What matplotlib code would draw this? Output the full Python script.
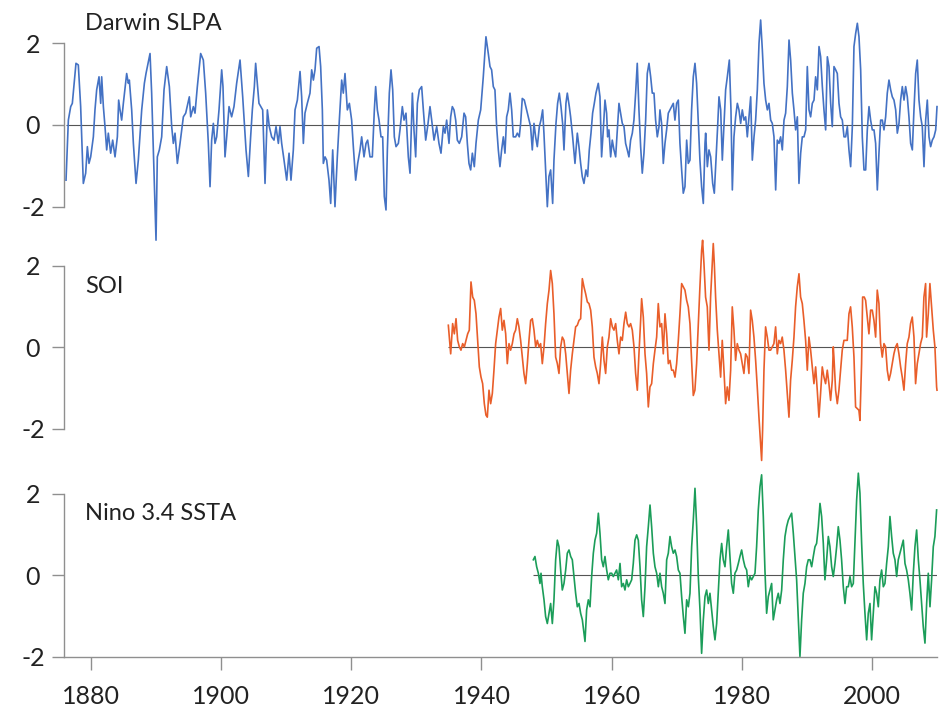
import numpy as np
import matplotlib.pyplot as plt

plt.rcParams["font.family"] = ["Lato", "DejaVu Sans"]

# Darwin sea level pressure anomaly
darwin_year = [
    1876.16, 1876.52, 1876.88, 1877.13, 1877.69, 1878.05, 1878.41, 1878.82, 1879.18, 1879.44,
    1879.69, 1879.95, 1880.36, 1880.61, 1880.87, 1881.23, 1881.49, 1881.64, 1881.90, 1882.15,
    1882.41, 1882.66, 1883.02, 1883.33, 1883.69, 1884.05, 1884.25, 1884.46, 1884.71, 1884.97,
    1885.48, 1885.74, 1885.89, 1886.25, 1886.51, 1886.92, 1887.27, 1887.79, 1888.20, 1888.45,
    1889.07, 1889.32, 1889.58, 1889.99, 1890.19, 1890.50, 1890.86, 1891.22, 1891.63, 1892.04,
    1892.40, 1892.65, 1892.91, 1893.27, 1893.68, 1894.19, 1894.55, 1895.11, 1895.32, 1895.73,
    1895.98, 1896.34, 1896.85, 1897.26, 1897.62, 1898.03, 1898.29, 1898.54, 1898.80, 1899.05,
    1899.31, 1899.67, 1900.08, 1900.28, 1900.59, 1900.85, 1901.21, 1901.61, 1901.97, 1902.38,
    1902.90, 1903.31, 1903.82, 1904.18, 1904.53, 1904.79, 1905.10, 1905.30, 1905.56, 1905.81,
    1906.38, 1906.74, 1907.10, 1907.40, 1907.76, 1908.12, 1908.43, 1908.79, 1909.04, 1909.30,
    1909.66, 1910.07, 1910.43, 1910.73, 1911.09, 1911.35, 1911.71, 1912.12, 1912.37, 1912.63,
    1912.88, 1913.24, 1913.65, 1913.91, 1914.17, 1914.42, 1914.68, 1915.04, 1915.29, 1915.55,
    1915.70, 1915.96, 1916.21, 1916.57, 1916.83, 1917.14, 1917.49, 1917.85, 1918.16, 1918.52,
    1918.77, 1919.03, 1919.39, 1919.70, 1920.05, 1920.31, 1920.67, 1920.98, 1921.34, 1921.59,
    1921.95, 1922.26, 1922.51, 1922.87, 1923.23, 1923.54, 1923.74, 1924.00, 1924.26, 1924.56,
    1924.82, 1925.07, 1925.33, 1925.54, 1925.84, 1926.10, 1926.36, 1926.61, 1926.87, 1927.23,
    1927.48, 1927.84, 1928.10, 1928.40, 1928.76, 1929.02, 1929.38, 1929.63, 1929.89, 1930.15,
    1930.45, 1930.81, 1931.07, 1931.43, 1931.73, 1932.09, 1932.35, 1932.71, 1933.12, 1933.47,
    1933.78, 1934.14, 1934.40, 1934.65, 1935.01, 1935.27, 1935.52, 1935.78, 1936.04, 1936.29,
    1936.60, 1936.96, 1937.32, 1937.57, 1937.83, 1938.08, 1938.34, 1938.60, 1938.90, 1939.16,
    1939.52, 1939.88, 1940.28, 1940.69, 1941.05, 1941.31, 1941.56, 1941.82, 1942.07, 1942.33,
    1942.59, 1942.84, 1943.10, 1943.36, 1943.61, 1943.87, 1944.12, 1944.38, 1944.64, 1944.89,
    1945.25, 1945.51, 1945.81, 1946.02, 1946.27, 1946.58, 1946.94, 1947.30, 1947.55, 1947.81,
    1948.07, 1948.32, 1948.58, 1948.89, 1949.14, 1949.40, 1949.60, 1949.86, 1950.12, 1950.37,
    1950.63, 1950.94, 1951.14, 1951.45, 1951.70, 1951.96, 1952.22, 1952.47, 1952.68, 1952.98,
    1953.19, 1953.50, 1953.70, 1954.01, 1954.37, 1954.73, 1954.98, 1955.24, 1955.49, 1955.75,
    1956.06, 1956.31, 1956.57, 1956.83, 1957.08, 1957.34, 1957.59, 1957.95, 1958.21, 1958.46,
    1958.72, 1958.98, 1959.23, 1959.39, 1959.59, 1959.85, 1960.10, 1960.36, 1960.62, 1960.87,
    1961.13, 1961.38, 1961.64, 1961.90, 1962.15, 1962.41, 1962.66, 1962.92, 1963.18, 1963.43,
    1963.69, 1963.94, 1964.20, 1964.46, 1964.71, 1964.97, 1965.23, 1965.48, 1965.74, 1966.00,
    1966.25, 1966.51, 1966.76, 1967.02, 1967.28, 1967.43, 1967.68, 1967.94, 1968.20, 1968.45,
    1968.71, 1968.96, 1969.22, 1969.48, 1969.73, 1969.99, 1970.25, 1970.50, 1970.76, 1971.01,
    1971.27, 1971.53, 1971.78, 1972.04, 1972.29, 1972.55, 1972.81, 1973.06, 1973.32, 1973.57,
    1973.83, 1974.09, 1974.35, 1974.45, 1974.71, 1974.96, 1975.22, 1975.53, 1975.78, 1976.04,
    1976.29, 1976.50, 1976.76, 1977.01, 1977.27, 1977.52, 1977.78, 1978.09, 1978.34, 1978.55,
    1978.80, 1979.06, 1979.32, 1979.57, 1979.83, 1980.08, 1980.34, 1980.60, 1980.85, 1981.11,
    1981.37, 1981.62, 1981.88, 1982.13, 1982.39, 1982.65, 1982.90, 1983.16, 1983.41, 1983.67,
    1983.93, 1984.18, 1984.44, 1984.69, 1984.95, 1985.21, 1985.46, 1985.72, 1985.97, 1986.23,
    1986.49, 1986.74, 1987.00, 1987.26, 1987.51, 1987.77, 1988.02, 1988.28, 1988.54, 1988.79,
    1989.05, 1989.30, 1989.56, 1989.82, 1990.07, 1990.33, 1990.58, 1990.84, 1991.10, 1991.35,
    1991.61, 1991.87, 1992.12, 1992.38, 1992.63, 1992.89, 1993.15, 1993.40, 1993.66, 1993.91,
    1994.17, 1994.43, 1994.68, 1994.94, 1995.19, 1995.45, 1995.71, 1995.96, 1996.22, 1996.47,
    1996.73, 1996.99, 1997.24, 1997.50, 1997.76, 1998.01, 1998.27, 1998.52, 1998.78, 1999.04,
    1999.29, 1999.55, 1999.80, 2000.06, 2000.32, 2000.57, 2000.83, 2001.08, 2001.34, 2001.60,
    2001.85, 2002.11, 2002.36, 2002.62, 2002.88, 2003.13, 2003.39, 2003.65, 2003.90, 2004.16,
    2004.41, 2004.67, 2004.93, 2005.18, 2005.44, 2005.69, 2005.95, 2006.21, 2006.46, 2006.72,
    2006.97, 2007.23, 2007.49, 2007.74, 2008.00, 2008.26, 2008.51, 2008.77, 2009.02, 2009.28,
    2009.54, 2009.80, 2010.00,
]
darwin_val = [
    -1.35, 0.12, 0.45, 0.53, 1.51, 1.47, 0.45, -1.43, -1.18, -0.53,
    -0.94, -0.78, -0.29, 0.37, 0.86, 1.18, 0.53, 1.18, 0.45, -0.04,
    -0.61, -0.20, -0.69, -0.37, -0.78, -0.29, 0.61, 0.37, 0.12, 0.53,
    1.26, 1.02, 1.10, 0.37, -0.45, -1.43, -0.86, 0.37, 1.02, 1.26,
    1.75, 0.78, -0.61, -2.82, -0.78, -0.61, -0.29, 0.86, 1.43, 0.94,
    -0.04, -0.45, -0.20, -0.94, -0.45, 0.20, 0.29, 0.69, 0.20, 0.45,
    0.29, 0.94, 1.75, 1.59, 0.78, -0.45, -1.51, -0.37, 0.04, -0.45,
    -0.29, 0.37, 1.35, 0.94, -0.78, -0.29, 0.45, 0.20, 0.45, 1.02,
    1.59, 0.69, -0.61, -1.26, -0.29, 0.37, 0.94, 1.51, 1.02, 0.53,
    0.37, -1.43, 0.37, -0.04, -0.29, -0.37, -0.04, -0.45, -0.04, -0.45,
    -0.86, -1.35, -0.69, -1.35, -0.61, 0.37, 0.61, 1.31, 0.69, -0.45,
    0.29, 0.53, 0.78, 1.35, 1.10, 1.35, 1.88, 1.92, 1.43, 0.37,
    -0.94, -0.78, -0.86, -1.35, -1.92, -0.61, -2.00, -0.78, 0.12, 1.10,
    0.78, 1.26, 0.37, 0.53, 0.12, -0.53, -1.35, -0.94, -0.61, -0.29,
    -0.78, -0.45, -0.37, -0.78, -0.78, 0.37, 0.94, 0.37, 0.12, -0.29,
    -0.29, -1.75, -2.08, -0.61, 0.78, 1.35, 0.86, -0.29, -0.53, -0.45,
    -0.12, 0.45, 0.12, 0.29, -0.78, -1.18, 0.78, -0.12, -0.78, 0.53,
    0.86, 0.94, 0.37, -0.37, -0.04, 0.45, 0.12, -0.37, -0.04, -0.45,
    -0.69, -0.04, -0.20, 0.12, -0.45, 0.20, 0.45, 0.37, 0.12, -0.37,
    -0.45, -0.29, 0.29, 0.20, -0.45, -0.94, -1.10, -0.69, -1.02, -0.45,
    0.12, 0.37, 1.18, 2.16, 1.75, 1.43, 1.35, 0.94, 0.86, -0.04,
    -0.61, -1.02, -0.61, -0.29, -0.69, 0.20, 0.37, 0.78, 0.37, -0.29,
    -0.29, -0.20, -0.29, 0.04, 0.65, 0.61, 0.37, 0.12, -0.04, -0.61,
    0.04, -0.29, -0.53, -0.04, 0.12, 0.37, -0.20, -1.10, -2.00, -1.26,
    -1.10, -1.92, -0.86, 0.04, 0.53, 0.78, 0.45, 0.04, -0.61, 0.53,
    0.78, 0.45, 0.20, -0.29, -0.94, -0.20, -0.53, -0.94, -1.26, -1.43,
    -1.10, -1.26, -0.61, -0.20, 0.29, 0.53, 0.78, 1.02, 0.69, -0.78,
    -0.12, 0.61, 0.29, -0.29, -0.12, -0.78, -0.37, -0.61, -0.78, -0.12,
    0.53, 0.29, 0.04, -0.04, -0.45, -0.61, -0.78, -0.37, -0.20, 0.12,
    0.78, 1.51, 0.37, -0.53, -1.18, -0.69, 0.12, 1.26, 1.51, 1.18,
    0.78, 0.78, 0.12, -0.29, -0.04, 0.37, 0.04, -0.94, -0.45, -0.12,
    0.29, 0.37, 0.45, 0.53, 0.12, 0.53, 0.61, -0.45, -1.10, -1.67,
    -1.51, -0.37, -0.94, -0.86, 0.37, 1.18, 1.51, 1.02, 0.04, -0.86,
    -1.51, -1.92, -0.45, -0.20, -1.02, -0.61, -0.78, -1.43, -1.67, -0.86,
    -0.04, 0.69, 0.37, -0.86, 0.04, 0.86, 1.18, 1.59, 0.37, -1.59,
    -0.29, 0.20, 0.53, 0.37, 0.04, 0.37, 0.12, 0.20, -0.29, 0.20,
    0.69, -0.86, -0.29, 0.12, 0.86, 2.00, 2.57, 1.84, 1.02, 0.61,
    0.37, 0.53, 0.12, 0.04, -0.29, -1.59, -0.37, -0.45, -0.29, -0.61,
    0.12, 0.29, 0.94, 2.08, 1.59, 0.78, 0.37, -0.12, 0.20, -1.43,
    -0.69, -0.29, -0.29, -0.12, 1.43, 0.37, 0.20, 0.53, 0.61, 1.18,
    0.86, 1.92, 1.67, 0.94, 0.37, -0.12, 1.67, 1.43, 0.53, -0.04,
    1.43, 1.35, 1.26, 0.53, 0.20, 0.12, -0.29, -0.29, -0.04, -0.61,
    -1.02, -0.04, 1.92, 2.24, 2.49, 2.16, 1.35, -0.29, -1.10, -1.10,
    -0.12, 0.45, 0.12, -0.12, -0.12, -0.45, -1.59, -0.69, 0.12, 0.12,
    -0.12, 0.20, 0.78, 1.10, 0.86, 0.69, 0.61, 0.37, -0.20, 0.04,
    0.61, 0.94, 0.61, 0.94, 0.69, 0.20, -0.45, -0.61, 0.37, 1.26,
    1.59, 0.61, 0.20, -0.04, -1.02, 0.12, 0.61, -0.29, -0.53, -0.37,
    -0.29, -0.12, 0.45,
]

# Southern Oscillation Index
soi_year = [
    1934.91, 1935.27, 1935.57, 1935.83, 1936.09, 1936.34, 1936.60, 1936.85, 1937.11, 1937.37,
    1937.62, 1937.88, 1938.13, 1938.39, 1938.65, 1938.90, 1939.16, 1939.41, 1939.67, 1939.93,
    1940.18, 1940.44, 1940.69, 1940.90, 1941.16, 1941.41, 1941.67, 1941.92, 1942.18, 1942.44,
    1942.69, 1942.95, 1943.20, 1943.46, 1943.72, 1943.97, 1944.23, 1944.48, 1944.74, 1945.00,
    1945.25, 1945.51, 1945.76, 1946.02, 1946.28, 1946.53, 1946.79, 1947.05, 1947.30, 1947.56,
    1947.81, 1948.07, 1948.33, 1948.58, 1948.84, 1949.09, 1949.35, 1949.61, 1949.86, 1950.12,
    1950.38, 1950.63, 1950.89, 1951.14, 1951.40, 1951.66, 1951.91, 1952.17, 1952.42, 1952.68,
    1952.94, 1953.19, 1953.45, 1953.70, 1953.96, 1954.22, 1954.47, 1954.73, 1954.99, 1955.24,
    1955.50, 1955.75, 1956.01, 1956.27, 1956.52, 1956.78, 1957.03, 1957.29, 1957.55, 1957.80,
    1958.06, 1958.31, 1958.57, 1958.83, 1959.08, 1959.34, 1959.59, 1959.85, 1960.11, 1960.36,
    1960.62, 1960.87, 1961.13, 1961.39, 1961.64, 1961.90, 1962.16, 1962.41, 1962.67, 1962.92,
    1963.18, 1963.44, 1963.69, 1963.95, 1964.20, 1964.46, 1964.61, 1964.87, 1965.13, 1965.38,
    1965.64, 1965.89, 1966.15, 1966.41, 1966.66, 1966.92, 1967.17, 1967.43, 1967.69, 1967.94,
    1968.20, 1968.46, 1968.71, 1968.97, 1969.22, 1969.48, 1969.74, 1969.99, 1970.25, 1970.50,
    1970.76, 1971.02, 1971.27, 1971.53, 1971.78, 1972.04, 1972.29, 1972.55, 1972.80, 1973.06,
    1973.32, 1973.57, 1973.83, 1973.98, 1974.19, 1974.44, 1974.70, 1974.96, 1975.21, 1975.47,
    1975.62, 1975.78, 1975.98, 1976.24, 1976.49, 1976.75, 1977.00, 1977.26, 1977.52, 1977.77,
    1978.03, 1978.29, 1978.54, 1978.80, 1979.05, 1979.31, 1979.57, 1979.82, 1980.08, 1980.33,
    1980.59, 1980.85, 1981.10, 1981.36, 1981.61, 1981.87, 1982.13, 1982.38, 1982.64, 1982.89,
    1983.05, 1983.20, 1983.41, 1983.66, 1983.92, 1984.18, 1984.43, 1984.69, 1984.94, 1985.20,
    1985.46, 1985.71, 1985.97, 1986.22, 1986.48, 1986.74, 1986.99, 1987.25, 1987.50, 1987.76,
    1988.02, 1988.27, 1988.53, 1988.79, 1989.04, 1989.30, 1989.55, 1989.81, 1990.07, 1990.32,
    1990.58, 1990.83, 1991.09, 1991.35, 1991.60, 1991.86, 1992.11, 1992.37, 1992.63, 1992.88,
    1993.14, 1993.39, 1993.65, 1993.91, 1994.06, 1994.16, 1994.42, 1994.68, 1994.93, 1995.19,
    1995.44, 1995.70, 1995.96, 1996.21, 1996.47, 1996.72, 1996.98, 1997.24, 1997.49, 1997.75,
    1998.00, 1998.16, 1998.41, 1998.57, 1998.82, 1999.03, 1999.29, 1999.54, 1999.80, 2000.05,
    2000.31, 2000.57, 2000.82, 2001.08, 2001.33, 2001.59, 2001.85, 2002.10, 2002.36, 2002.61,
    2002.87, 2003.13, 2003.38, 2003.64, 2003.89, 2004.15, 2004.41, 2004.66, 2004.92, 2005.18,
    2005.43, 2005.69, 2005.94, 2006.20, 2006.46, 2006.71, 2006.97, 2007.22, 2007.48, 2007.74,
    2007.99, 2008.25, 2008.40, 2008.66, 2008.91, 2009.17, 2009.43, 2009.68, 2009.94, 2010.00,
]
soi_val = [
    0.54, -0.16, 0.58, 0.33, 0.70, 0.17, 0.01, -0.07, 0.09, 0.01,
    0.17, 0.33, 0.42, 1.60, 1.23, 1.15, 0.82, 0.17, -0.48, -0.73,
    -0.89, -1.38, -1.66, -1.71, -1.05, -1.38, -1.13, -0.56, 0.09, 0.42,
    0.74, 0.95, 0.42, 0.66, 0.33, -0.40, 0.09, -0.07, 0.09, 0.33,
    0.42, 0.70, 0.50, 0.17, -0.24, -0.64, -0.89, -0.40, 0.17, 0.66,
    0.70, 0.42, 0.01, 0.17, 0.01, 0.09, -0.40, 0.01, 0.58, 1.07,
    1.40, 1.88, 1.56, 0.82, -0.24, -0.40, -0.64, 0.01, 0.25, 0.17,
    -0.16, -0.64, -1.13, -0.56, -0.16, 0.17, 0.50, 0.54, 0.66, 0.70,
    1.68, 1.48, 1.31, 1.11, 1.07, 0.91, 0.50, -0.24, -0.48, -0.64,
    -0.89, -0.40, 0.25, -0.32, -0.64, 0.01, 0.25, 0.70, 0.50, 0.42,
    0.58, 0.17, -0.16, 0.25, 0.17, 0.58, 0.86, 0.58, 0.50, 0.58,
    0.42, 0.01, -0.64, -1.05, -0.16, 0.66, 1.19, 0.74, -0.16, -0.64,
    -1.46, -0.97, -0.89, -0.40, -0.07, 0.25, 1.07, 0.50, 0.58, -0.16,
    0.82, 0.33, -0.40, -0.32, -0.56, -0.56, -0.73, -0.40, 0.17, 0.82,
    1.56, 1.48, 1.40, 1.15, 0.99, 0.58, -0.32, -1.18, -1.05, -0.40,
    0.58, 1.48, 2.37, 2.62, 2.05, 1.23, 0.99, -0.07, 1.23, 2.05,
    2.54, 2.05, 1.23, 0.42, -0.16, -0.73, 0.17, -0.56, -1.38, -0.97,
    -1.30, -0.56, 0.99, 0.42, -0.32, 0.09, -0.07, -0.16, -0.40, -0.64,
    -0.16, -0.24, -0.64, 0.91, 0.66, 0.25, -0.32, -0.97, -1.71, -2.36,
    -2.77, -2.03, -0.56, 0.50, 0.25, -0.07, -0.07, 0.01, 0.09, 0.50,
    -0.16, 0.17, 0.09, 0.25, -0.07, -0.56, -1.13, -1.71, -0.81, -0.32,
    0.25, 0.99, 1.48, 1.80, 1.23, 1.07, 0.66, 0.17, -0.56, 0.25,
    -0.07, -0.48, -0.89, -0.48, -1.05, -1.71, -1.13, -0.48, -0.73, -0.89,
    -0.56, -0.89, -1.30, -0.81, 0.01, -0.24, -1.05, -1.38, -1.05, -0.56,
    -0.07, 0.17, 0.17, 0.17, 0.82, 0.99, 0.50, -0.24, -1.46, -1.50,
    -1.54, -1.79, -0.40, 1.23, 1.23, 1.15, 0.74, 0.33, 0.91, 0.91,
    0.66, 0.25, 1.40, 1.07, 0.09, -0.24, 0.09, 0.01, -0.56, -0.81,
    -0.64, -0.40, -0.16, 0.01, 0.09, -0.16, -0.48, -0.73, -1.05, -0.40,
    0.09, 0.25, 0.58, 0.74, 0.25, -0.89, -0.40, -0.16, 0.09, 0.25,
    1.23, 1.56, 0.25, 0.82, 1.56, 0.99, 0.42, 0.01, -0.97, -1.05,
]

# Nino 3.4 sea surface temperature anomaly
nino_year = [
    1947.97, 1948.22, 1948.48, 1948.74, 1948.99, 1949.15, 1949.35, 1949.61, 1949.86, 1950.12,
    1950.38, 1950.63, 1950.89, 1951.14, 1951.40, 1951.66, 1951.91, 1952.17, 1952.42, 1952.68,
    1952.94, 1953.19, 1953.45, 1953.71, 1953.96, 1954.22, 1954.47, 1954.73, 1954.99, 1955.24,
    1955.50, 1955.75, 1955.91, 1956.16, 1956.42, 1956.68, 1956.93, 1957.19, 1957.44, 1957.70,
    1957.96, 1958.21, 1958.47, 1958.72, 1958.98, 1959.24, 1959.49, 1959.75, 1960.01, 1960.26,
    1960.52, 1960.77, 1961.03, 1961.29, 1961.54, 1961.80, 1962.05, 1962.31, 1962.57, 1962.82,
    1963.08, 1963.33, 1963.59, 1963.85, 1964.10, 1964.36, 1964.61, 1964.87, 1965.13, 1965.38,
    1965.64, 1965.90, 1966.15, 1966.41, 1966.66, 1966.92, 1967.18, 1967.43, 1967.69, 1967.94,
    1968.20, 1968.46, 1968.71, 1968.97, 1969.22, 1969.48, 1969.74, 1969.99, 1970.25, 1970.50,
    1970.76, 1971.02, 1971.27, 1971.53, 1971.79, 1972.04, 1972.30, 1972.55, 1972.81, 1973.07,
    1973.32, 1973.58, 1973.83, 1974.09, 1974.35, 1974.60, 1974.86, 1975.11, 1975.37, 1975.63,
    1975.88, 1976.14, 1976.39, 1976.65, 1976.91, 1977.16, 1977.42, 1977.67, 1977.93, 1978.19,
    1978.44, 1978.70, 1978.95, 1979.21, 1979.47, 1979.72, 1979.98, 1980.24, 1980.49, 1980.75,
    1981.00, 1981.26, 1981.52, 1981.77, 1982.03, 1982.28, 1982.54, 1982.80, 1983.05, 1983.31,
    1983.56, 1983.82, 1984.08, 1984.33, 1984.59, 1984.84, 1985.10, 1985.36, 1985.61, 1985.87,
    1986.13, 1986.38, 1986.64, 1986.89, 1987.15, 1987.41, 1987.66, 1987.92, 1988.17, 1988.43,
    1988.69, 1988.94, 1989.20, 1989.45, 1989.71, 1989.97, 1990.22, 1990.48, 1990.74, 1990.99,
    1991.25, 1991.50, 1991.76, 1992.02, 1992.27, 1992.53, 1992.78, 1993.04, 1993.30, 1993.55,
    1993.81, 1994.06, 1994.32, 1994.58, 1994.83, 1995.09, 1995.34, 1995.60, 1995.86, 1996.11,
    1996.37, 1996.63, 1996.88, 1997.14, 1997.39, 1997.65, 1997.91, 1998.16, 1998.42, 1998.67,
    1998.93, 1999.19, 1999.44, 1999.70, 1999.95, 2000.21, 2000.47, 2000.72, 2000.98, 2001.23,
    2001.49, 2001.75, 2002.00, 2002.26, 2002.52, 2002.77, 2003.03, 2003.28, 2003.54, 2003.80,
    2004.05, 2004.31, 2004.56, 2004.82, 2005.08, 2005.33, 2005.59, 2005.84, 2006.10, 2006.36,
    2006.61, 2006.87, 2007.13, 2007.38, 2007.64, 2007.89, 2008.15, 2008.41, 2008.66, 2008.92,
    2009.17, 2009.43, 2009.68, 2009.94,
]
nino_val = [
    0.38, 0.46, 0.21, 0.05, -0.20, 0.05, -0.28, -0.60, -1.01, -1.18,
    -0.93, -0.69, -1.18, -0.60, 0.38, 0.86, 0.70, 0.13, -0.36, -0.20,
    0.13, 0.54, 0.62, 0.46, 0.38, -0.03, -0.44, -0.77, -0.69, -0.93,
    -1.09, -1.42, -1.62, -0.85, -0.60, -0.77, -0.03, 0.54, 0.86, 1.03,
    1.52, 1.03, 0.38, 0.21, 0.46, 0.13, -0.11, 0.05, 0.05, -0.03,
    0.05, 0.13, -0.11, 0.29, -0.28, -0.20, -0.36, -0.11, -0.28, -0.20,
    -0.11, 0.29, 0.86, 0.99, 0.86, 0.21, -0.60, -1.01, -0.28, 0.70,
    1.19, 1.72, 1.19, 0.54, 0.21, 0.05, -0.28, 0.05, -0.28, -0.44,
    -0.69, 0.38, 0.54, 0.95, 0.70, 0.54, 0.62, 0.46, 0.13, 0.05,
    -0.52, -1.01, -1.42, -0.60, -0.77, -0.44, 0.70, 1.35, 2.13, 1.19,
    -0.03, -0.85, -1.91, -1.09, -0.52, -0.36, -0.69, -0.44, -0.85, -1.26,
    -1.58, -1.18, -0.44, 0.38, 0.78, 0.38, 0.21, 0.70, 1.11, 0.46,
    -0.20, -0.44, 0.05, 0.13, 0.29, 0.46, 0.62, 0.38, 0.21, 0.13,
    -0.28, -0.03, -0.11, -0.03, 0.05, 0.70, 1.60, 2.17, 2.46, 1.44,
    0.13, -0.93, -0.52, -0.36, -0.20, -1.09, -0.85, -0.60, -0.44, -0.69,
    -0.36, 0.38, 0.95, 1.19, 1.35, 1.44, 1.52, 1.03, 0.46, -0.11,
    -1.09, -1.99, -1.09, -0.44, -0.20, 0.21, 0.38, 0.38, 0.21, 0.46,
    0.70, 0.78, 1.19, 1.76, 1.44, 0.78, -0.11, 0.38, 0.95, 0.70,
    0.21, -0.03, 0.29, 0.70, 1.19, 0.86, 0.38, -0.28, -0.69, -0.28,
    -0.28, -0.03, -0.28, -0.20, 0.78, 1.84, 2.50, 2.01, 0.78, -0.20,
    -0.93, -1.58, -0.93, -0.69, -1.58, -0.93, -0.28, -0.44, -0.77, -0.11,
    0.13, -0.28, -0.20, 0.29, 0.70, 1.44, 0.95, 0.54, 0.38, -0.03,
    0.38, 0.54, 0.70, 0.86, 0.29, 0.13, -0.11, -0.44, -0.85, 0.05,
    0.70, 1.11, 0.38, -0.11, -0.69, -1.26, -1.66, -0.69, 0.05, -0.77,
    -0.11, 0.70, 0.95, 1.60,
]

series = [
    ("Darwin SLPA", darwin_year, darwin_val, "#4472C4"),
    ("SOI", soi_year, soi_val, "#E95E2A"),
    ("Nino 3.4 SSTA", nino_year, nino_val, "#1B9D59"),
]
y_ticks = [-2, 0, 2]
y_tick_labels = ["-2", "0", "2"]
x_ticks = [1880, 1900, 1920, 1940, 1960, 1980, 2000]
x_range = (1875.85, 2010.0)
y_range = (-2.85, 2.85)

W, H = 951, 710
AXIS_GREY = "#8f8f8f"
TEXT = "#222222"

fig = plt.figure(figsize=(W / 100, H / 100), dpi=100)

# pixel row of each panel's zero line, measured from the top of the figure
zero_rows = [125.0, 347.3, 575.3]
px_per_unit = 40.85
panel_h = (y_range[1] - y_range[0]) * px_per_unit
title_base = [2.33, 1.33, 1.35]

for i, (name, yr, val, col) in enumerate(series):
    bottom_px = zero_rows[i] + panel_h / 2
    ax = fig.add_axes([64 / W, (H - bottom_px) / H, 873 / W, panel_h / H])
    ax.patch.set_alpha(0)
    ax.set_xlim(*x_range)
    ax.set_ylim(*y_range)

    ax.hlines(0, yr[0], yr[-1], color="#555555", lw=0.8, zorder=1)
    ax.plot(yr, val, color=col, lw=1.2, solid_joinstyle="round", clip_on=False, zorder=2)
    ax.text(1879.1, title_base[i], name, fontsize=17, color=TEXT,
            ha="left", va="baseline")

    for s in ["top", "right", "bottom"]:
        ax.spines[s].set_visible(False)
    ax.spines["left"].set_bounds(-2, 2)
    ax.spines["left"].set_color(AXIS_GREY)
    ax.spines["left"].set_linewidth(1.0)

    ax.set_yticks(y_ticks)
    ax.set_yticklabels(y_tick_labels)
    ax.tick_params(axis="y", length=8.4, width=1.0, color=AXIS_GREY, pad=14,
                   labelsize=18, labelcolor=TEXT)
    for lab in ax.get_yticklabels():
        lab.set_horizontalalignment("center")

    if i < 2:
        ax.tick_params(axis="x", bottom=False, labelbottom=False)
    else:
        ax.spines["bottom"].set_visible(True)
        ax.spines["bottom"].set_position(("data", -2))
        ax.spines["bottom"].set_color(AXIS_GREY)
        ax.spines["bottom"].set_linewidth(1.0)
        ax.set_xticks(x_ticks)
        ax.set_xticklabels([str(t) for t in x_ticks])
        ax.tick_params(axis="x", length=9.4, width=1.0, color=AXIS_GREY, pad=11,
                       labelsize=18, labelcolor=TEXT)

fig.savefig("out.png", dpi=100)
